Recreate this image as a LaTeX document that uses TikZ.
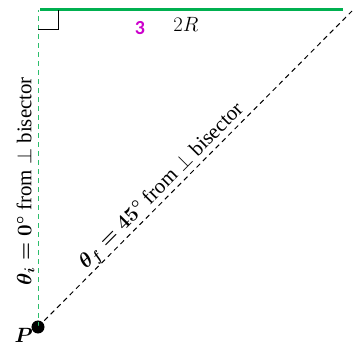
\documentclass[tikz,border=0pt]{standalone}
\usepackage{fontspec}
\setmainfont{Liberation Serif}
\setsansfont{Carlito}
\usepackage{amsmath}
\usetikzlibrary{positioning,calc}
\definecolor{verde}{HTML}{00B050}
\definecolor{verdeclaro}{HTML}{2DBE6C}
\definecolor{rosa}{HTML}{CC00CC}
\newcommand{\letragrande}{\fontsize{21}{25}\selectfont}
\tikzset{
  punto/.style={circle,fill=black,inner sep=0pt,minimum size=13bp},
  lado/.style={line width=3bp,verde},
  guia/.style={line width=1bp,verdeclaro,dash pattern=on 5bp off 4bp},
  diagonal/.style={line width=1bp,black,dash pattern=on 5bp off 4bp},
  recto/.style={line width=1bp,black},
  etiqueta/.style={font=\letragrande,text=black,inner sep=2bp},
}
\begin{document}
\begin{tikzpicture}[x=1bp,y=1bp]
  \useasboundingbox (0,0) rectangle (356,346);
  \node[punto] (P) at (38,19) {};
  \node[etiqueta,anchor=base east,inner sep=0pt] (Plab) at (33,4) {$\boldsymbol{P}$};
  \coordinate (arriba) at (38,336);
  \coordinate (izq) at (40,336);
  \coordinate (der) at (343,336);
  \coordinate (lejos) at (352,335);
  % lados
  \draw[guia] (P.center) -- (arriba)
    node[etiqueta,pos=0.46,sloped,above,yshift=1bp] (ti) {$\boldsymbol{\theta_i = 0^\circ}$ from $\perp$ bisector};
  \draw[diagonal] (P.center) -- (lejos)
    node[etiqueta,pos=0.42,sloped,above,inner sep=0bp] (tf) {$\boldsymbol{\theta_f = 45^\circ}$ from $\perp$ bisector};
  \draw[lado] (izq) -- (der);
  \draw[recto] ($(arriba)+(0,-20)$) -| ($(arriba)+(20,0)$);
  \node[font=\sffamily\bfseries\fontsize{20}{24}\selectfont,text=rosa] (tres) at (140,318) {3};
  \node[etiqueta] (dosR) at (186,322) {$2R$};
\end{tikzpicture}
\end{document}
